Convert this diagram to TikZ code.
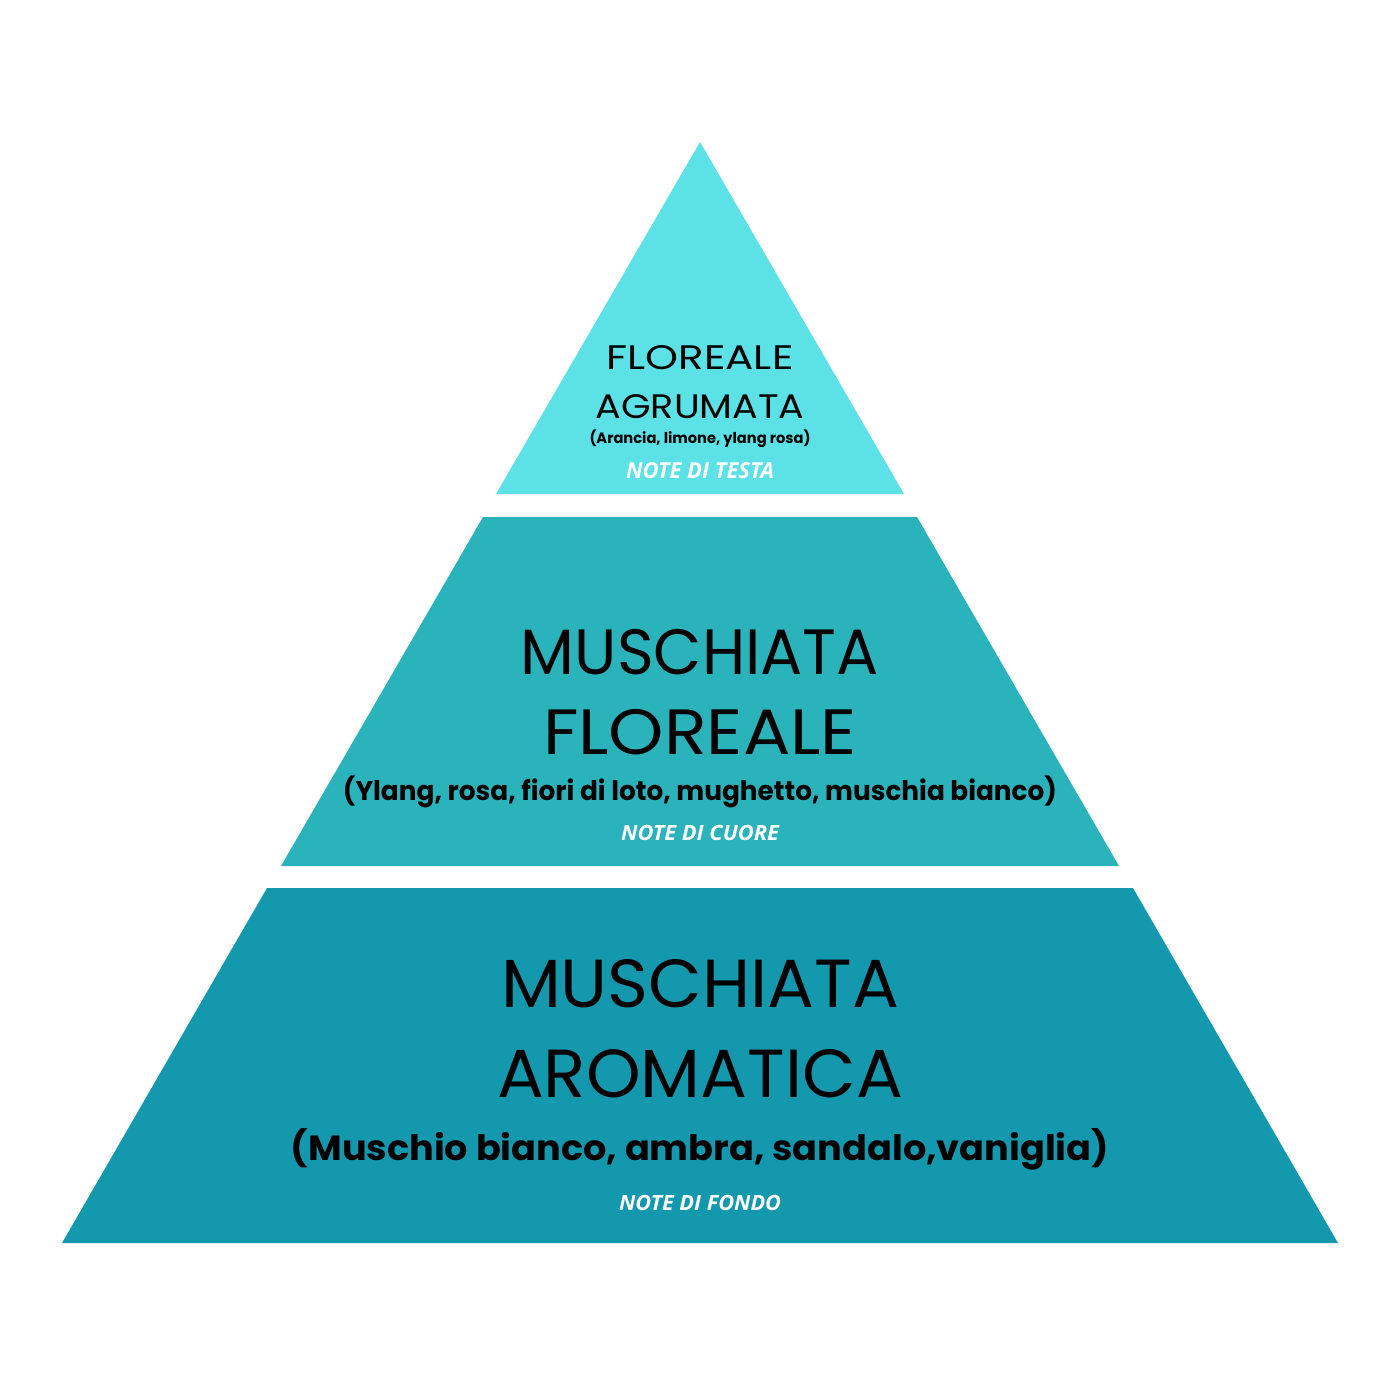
\documentclass[tikz,border=0pt]{standalone}
\usepackage{fontspec}
\usepackage{graphicx}
\setmainfont{Poppins}
\newfontfamily\opensans{Open Sans}
\definecolor{ctop}{HTML}{5CE1E6}
\definecolor{cmid}{HTML}{2BB3BB}
\definecolor{cbot}{HTML}{1398AE}
\newcommand\fitw[2]{\resizebox{#1}{\height}{#2}}
\tikzset{
  ttl/.style={anchor=base, inner sep=0pt, text=black},
  sub/.style={anchor=base, inner sep=0pt, text=black},
  note/.style={anchor=base, inner sep=0pt, text=white},
}
\begin{document}
\begin{tikzpicture}[x=1pt,y=-1pt]
\fill[white] (0,0) rectangle (1400,1400);
\useasboundingbox (0,0) rectangle (1400,1400);
% layers
\fill[ctop] (700,142) -- (904,494) -- (496,494) -- cycle;
\fill[cmid] (483,517) -- (917,517) -- (1119,866) -- (281,866) -- cycle;
\fill[cbot] (267,888) -- (1133,888) -- (1338,1243) -- (62,1243) -- cycle;
% top
\node[ttl, font=\fontsize{34}{34}\selectfont] (t1) at (700,369) {\fitw{187pt}{FLOREALE}};
\node[ttl, font=\fontsize{34}{34}\selectfont] (t2) at (700,418) {\fitw{209pt}{AGRUMATA}};
\node[sub, font=\fontsize{15}{15}\selectfont\bfseries] (t3) at (700,443) {\fitw{221pt}{(Arancia, limone, ylang rosa)}};
\node[note, font=\fontsize{22}{22}\selectfont\opensans\bfseries\itshape] (t4) at (700,478) {\fitw{148pt}{NOTE DI TESTA}};
% middle
\node[ttl, font=\fontsize{64}{64}\selectfont] (m1) at (700,674) {\fitw{358pt}{MUSCHIATA}};
\node[ttl, font=\fontsize{64}{64}\selectfont] (m2) at (700,754) {\fitw{314pt}{FLOREALE}};
\node[sub, font=\fontsize{27}{27}\selectfont\bfseries] (m3) at (700,800) {\fitw{714pt}{(Ylang, rosa, fiori di loto, mughetto, muschia bianco)}};
\node[note, font=\fontsize{21}{21}\selectfont\opensans\bfseries\itshape] (m4) at (700,840) {\fitw{158pt}{NOTE DI CUORE}};
% bottom
\node[ttl, font=\fontsize{68}{68}\selectfont] (b1) at (700,1007) {\fitw{398pt}{MUSCHIATA}};
\node[ttl, font=\fontsize{68}{68}\selectfont] (b2) at (700,1097) {\fitw{406pt}{AROMATICA}};
\node[sub, font=\fontsize{35}{35}\selectfont\bfseries] (b3) at (700,1160) {\fitw{818pt}{(Muschio bianco, ambra, sandalo,vaniglia)}};
\node[note, font=\fontsize{21}{21}\selectfont\opensans\bfseries\itshape] (b4) at (700,1210) {\fitw{162pt}{NOTE DI FONDO}};
\end{tikzpicture}
\end{document}
